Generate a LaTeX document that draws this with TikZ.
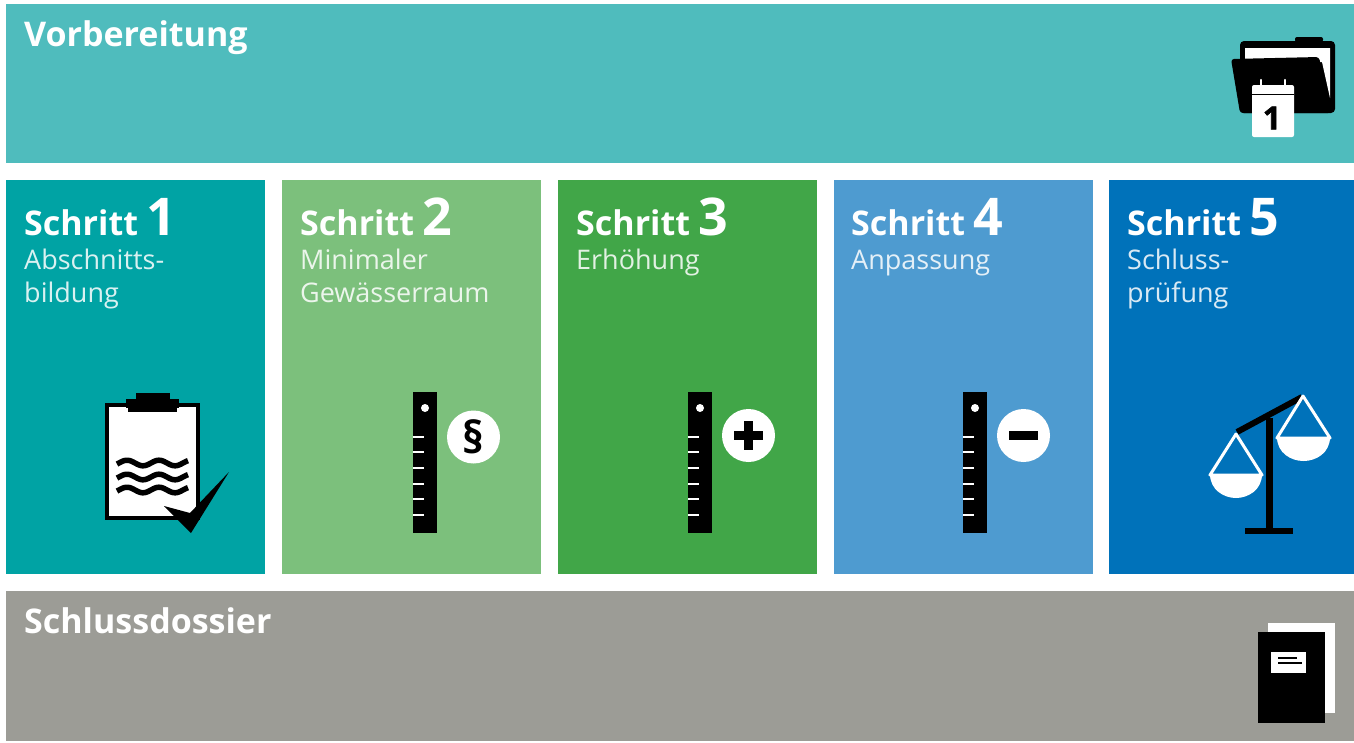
\documentclass[tikz,border=0pt]{standalone}
\usepackage{fontspec}
\usepackage{xcolor}
\usetikzlibrary{calc}
\setmainfont{Open Sans}
\definecolor{prepc}{HTML}{4FBCBD}
\definecolor{stepac}{HTML}{00A3A4}
\definecolor{stepbc}{HTML}{7CC07C}
\definecolor{stepcc}{HTML}{41A648}
\definecolor{stepdc}{HTML}{4E9BD0}
\definecolor{stepec}{HTML}{0072BA}
\definecolor{dossierc}{HTML}{9C9C96}
\tikzset{
  panel/.style={anchor=north west, inner sep=0pt, outer sep=0pt, minimum width=259pt, minimum height=394pt},
  bandpanel/.style={anchor=north west, inner sep=0pt, outer sep=0pt, minimum width=1348pt},
  headline/.style={anchor=base west, inner sep=0pt, text=white, font=\fontsize{34}{38}\bfseries},
  subline/.style={anchor=base west, inner sep=0pt, text=white, text opacity=0.85, font=\fontsize{27}{31}\selectfont},
  badge/.style={circle, fill=white, inner sep=0pt, minimum size=53pt, text=black},
  hole/.style={fill=white},
  tick/.style={draw=white, line width=1.8pt},
  wave/.style={draw=black, line width=5.5pt},
  pan/.style={draw=white, line width=3pt, line join=round},
  signbar/.style={draw=black, line width=9pt},
}
\newcommand{\stepnum}[1]{{\fontsize{52}{52}\bfseries #1}}

\begin{document}
\begin{tikzpicture}[x=1pt,y=-1pt]
\useasboundingbox (0,0) rectangle (1354,742);
\fill[white] (0,0) rectangle (1354,742);
% bands and steps
\node[bandpanel, fill=prepc, minimum height=159pt] (prep) at (6,4) {};
\node[bandpanel, fill=dossierc, minimum height=150pt] (dossier) at (6,591) {};
\node[panel, fill=stepac] (stepa) at (6,180) {};
\node[panel, fill=stepbc] (stepb) at (282,180) {};
\node[panel, fill=stepcc] (stepc) at (558,180) {};
\node[panel, fill=stepdc] (stepd) at (834,180) {};
\node[panel, fill=stepec, minimum width=245pt] (stepe) at (1109,180) {};
% labels
\node[headline] (preplabel) at (24,46) {Vorbereitung};
\node[headline] (dossierlabel) at (24,633) {Schlussdossier};
\foreach \nm/\xpos/\num in {a/24/1,b/300/2,c/576/3,d/851/4,e/1127/5}
  \node[headline] (title\nm) at (\xpos,235) {Schritt \stepnum{\num}};
\node[subline] (subaone) at (24,269) {Abschnitts-};
\node[subline] (subatwo) at (24,302) {bildung};
\node[subline] (subbone) at (300,269) {Minimaler};
\node[subline] (subbtwo) at (300,302) {Gewässerraum};
\node[subline] (subcone) at (576,269) {Erhöhung};
\node[subline] (subdone) at (851,269) {Anpassung};
\node[subline] (subeone) at (1127,269) {Schluss-};
\node[subline] (subetwo) at (1127,302) {prüfung};
% folder with calendar
\fill[black, rounded corners=2pt] (1295,42) -- (1295,37) -- (1323,37) -- (1323,42) -- cycle;
\fill[black, rounded corners=4pt] (1240,41) rectangle (1335,113);
\fill[white] (1245,48) -- (1330,48) -- (1330,98) -- (1322,62) -- (1245,62) -- cycle;
\fill[black, rounded corners=3pt] (1231,59) -- (1319,57) -- (1331,113) -- (1240,113) -- cycle;
\fill[white, rounded corners=2pt] (1252,85) rectangle (1294,137);
\draw[black, line width=0.7pt] (1252,94) -- (1294,94);
\draw[white, line width=2.2pt, line cap=round] (1261,80) -- (1261,88);
\draw[white, line width=2.2pt, line cap=round] (1285,80) -- (1285,88);
\node[inner sep=0pt, text=black, font=\fontsize{32}{32}\bfseries\addfontfeature{FakeBold=2}] (calnum) at (1272,118) {1};
% clipboard
\fill[black] (105,403) rectangle (200,520);
\fill[white] (109,407) rectangle (196,516);
\fill[black] (126,399) rectangle (179,408);
\fill[black] (128,408) rectangle (177,412);
\fill[black] (136,393) rectangle (170,399);
\foreach \wy in {463,477,490}
  \draw[wave] plot[domain=0:71,samples=40] ({117+\x},{\wy-2.8*cos((\x-10)*11.25)});
\fill[black] (164,506) -- (191,533) -- (229,472) -- (190,513) -- cycle;
% rulers
\foreach \rx/\by/\sym/\nm in {413/437/\S/b,688/435.5//c,963/435.5//d} {
  \fill[black] (\rx,392) rectangle ++(24,141);
  \fill[hole] (\rx+12,408) circle (4pt);
  \foreach \ty in {437,452,468,484,499,515}
    \draw[tick] (\rx,\ty) -- ++(11,0);
  \node[badge, font=\fontsize{44}{44}\bfseries] (badge\nm) at (\rx+60.5,\by) {\sym};
}
\draw[signbar] ($(badgec)+(-14.5,0)$) -- ($(badgec)+(14.5,0)$);
\draw[signbar] ($(badgec)+(0,-14.5)$) -- ($(badgec)+(0,14.5)$);
\draw[signbar] ($(badged)+(-14.5,0)$) -- ($(badged)+(14.5,0)$);
% scales
\fill[black] (1265.5,418) rectangle (1272.5,530);
\fill[black] (1245,528) rectangle (1293,534);
\draw[black, line width=6pt] (1237,432) -- (1302,397);
\draw[pan] (1210,475) -- (1236,434) -- (1262,475) -- cycle;
\fill[white] (1210,474) .. controls (1210,490) and (1224,498) .. (1236,498) .. controls (1248,498) and (1262,490) .. (1262,474) -- cycle;
\draw[pan] (1277,438) -- (1303,396) -- (1330,438) -- cycle;
\fill[white] (1277,437) .. controls (1277,453) and (1291,461) .. (1303.5,461) .. controls (1316,461) and (1330,453) .. (1330,437) -- cycle;
% dossier
\fill[white] (1268,623) rectangle (1335,713);
\fill[black] (1258,632) rectangle (1325,723);
\fill[white] (1271,652) rectangle (1306,673);
\draw[black, line width=2pt] (1278,658) -- (1297,658);
\draw[black, line width=2pt] (1278,663) -- (1302,663);
\end{tikzpicture}
\end{document}
